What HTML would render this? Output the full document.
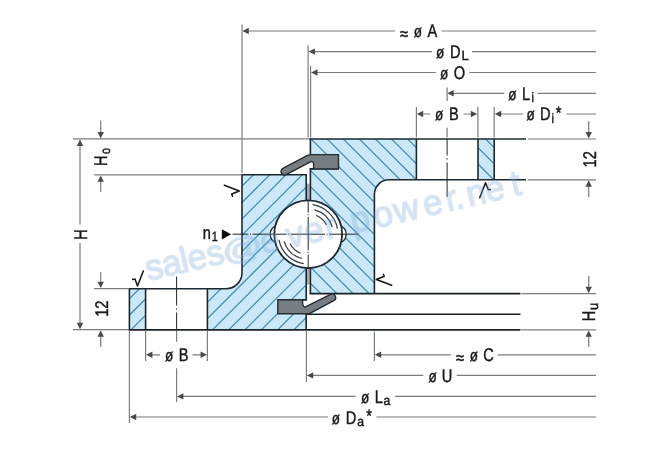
<!DOCTYPE html>
<html lang="en">
<head>
<meta charset="utf-8">
<title>Slewing bearing dimension drawing</title>
<style>
html,body{margin:0;padding:0;background:#fff;}
body{width:670px;height:450px;overflow:hidden;position:relative;}
svg{display:block;position:absolute;left:0;top:0;}
text{font-family:"Liberation Sans",sans-serif;fill:#1a1a1a;text-rendering:geometricPrecision;}
#labels{opacity:0.999;}
#labels text{stroke:#161616;stroke-width:0.45;}
.t{font-size:18.3px;}
.s{font-size:13.6px;}
.o{font-size:16.9px;}
.wm{font-size:36px;fill:#78a5d7;stroke:#78a5d7;stroke-width:1.4;stroke-linejoin:round;opacity:0.31;}
.dim{stroke:#7b7d7f;stroke-width:1.2;fill:none;}
.ah{fill:#484b4e;stroke:none;}
.ol{stroke:#1c2830;stroke-width:1.6;fill:none;stroke-linejoin:miter;stroke-linecap:butt;}
.thk{stroke:#1c2226;stroke-width:1.7;fill:none;}
.cl{stroke:#1f252a;stroke-width:1;fill:none;}
.hl{stroke:#4a8cb0;stroke-width:1.25;fill:none;}
.fillb{fill:#c9e8f9;}
.seal{fill:#767d83;stroke:#252c31;stroke-width:1.4;stroke-linejoin:round;}
.rm{fill:none;stroke:#151515;stroke-width:1.5;stroke-linecap:round;stroke-linejoin:round;}
</style>
</head>
<body>
<svg width="670" height="450" viewBox="0 0 670 450">
<defs>
<clipPath id="ci"><path d="M242 174.800H306.200V329.700H207.400V288.700H225.800A16 16 0 0 0 242 272.700ZM129.400 288.700H145.600V329.700H129.400Z"/></clipPath>
<clipPath id="co"><path d="M310.400 139H416.400V179.800H389A14.600 14.600 0 0 0 374.400 194.400V293.700H310.400Z"/></clipPath>
<clipPath id="cb"><path d="M478 139H494.200V179.800H478Z"/></clipPath>
</defs>

<!-- section fills -->
<g id="fills">
<path class="fillb" d="M242 174.800H306.200V329.700H207.400V288.700H225.800A16 16 0 0 0 242 272.700ZM129.400 288.700H145.600V329.700H129.400Z"/>
<path class="fillb" d="M310.400 139H416.400V179.800H389A14.600 14.600 0 0 0 374.400 194.400V293.700H310.400ZM478 139H494.200V179.800H478Z"/>
<path class="hl" clip-path="url(#ci)" d="M120 291.9L320 91.9M120 308.2L320 108.2M120 324.5L320 124.5M120 340.8L320 140.8M120 357.1L320 157.1M120 373.4L320 173.4M120 389.7L320 189.7M120 406L320 206M120 422.3L320 222.3M120 438.6L320 238.6M120 454.9L320 254.9M120 471.2L320 271.2M120 487.5L320 287.5M120 503.8L320 303.8"/>
<path class="hl" clip-path="url(#co)" d="M300 272.8L500 472.8M300 256.7L500 456.7M300 240.6L500 440.6M300 224.5L500 424.5M300 208.4L500 408.4M300 192.3L500 392.3M300 176.2L500 376.2M300 160.1L500 360.1M300 144L500 344M300 127.9L500 327.9M300 111.8L500 311.8M300 95.7L500 295.7M300 79.6L500 279.6M300 63.5L500 263.5M300 47.4L500 247.4M300 31.3L500 231.3"/>
<path class="hl" clip-path="url(#cb)" d="M470 156L500 186M470 139.700L500 169.700M470 123.400L500 153.400M470 172.300L500 202.300"/>
</g>

<!-- gap between rings -->
<rect x="307" y="183.700" width="2.600" height="17" fill="#a4a7ab"/>
<rect x="307" y="267" width="2.600" height="17.500" fill="#a4a7ab"/>

<!-- dimension / extension lines -->
<g id="dims" class="dim">
<path d="M242 24.500V173"/>
<path d="M308.100 45.300V137.500"/>
<path d="M310.600 65.800V137.500"/>
<path d="M447.100 87.500V101M447.100 127.700V137.500"/>
<path d="M416.400 107V137.500M477.900 107V137.500M494.200 107V137.500"/>
<path d="M73 138.900H309"/>
<path d="M94 174.800H241"/>
<path d="M94 288.700H128.500"/>
<path d="M73 329.700H128.500"/>
<path d="M528 139H596M528 179.800H596"/>
<path d="M521.500 293.700H596M521.500 329.900H596"/>
<path d="M129.400 331V423"/>
<path d="M145.600 331V361M207.400 331V361"/>
<path d="M176.600 331V341.700M176.600 368.300V402"/>
<path d="M306.400 331V382"/>
<path d="M374.400 331.500V361"/>
<path d="M247 31H395M441.500 31H596"/>
<path d="M313 51.600H432M472 51.600H596"/>
<path d="M315.500 72.500H436M469.500 72.500H596"/>
<path d="M452 93.300H504.300M537.700 93.300H596"/>
<path d="M421 114H430.300M463.700 114H473"/>
<path d="M499 114H523M566.300 114H596"/>
<path d="M150 354.800H160M192.500 354.800H203"/>
<path d="M379 354.800H450.800M497.500 354.800H596"/>
<path d="M311 375.400H423.300M456.700 375.400H596"/>
<path d="M181 396.400H355.800M395 396.400H596"/>
<path d="M134 417H328M376.300 417H596"/>
<path d="M80 144V224.500M80 243V325"/>
<path d="M100.700 120.500V134M100.700 180V192"/>
<path d="M100.700 272V284M100.700 335V347"/>
<path d="M588.700 121V134M588.700 185V197"/>
<path d="M588.700 276V289M588.700 335V347"/>
</g>
<path id="arrows" class="ah" d="M242.4 31l6.4 -3.2v6.4zM308.6 51.6l6.4 -3.2v6.4zM311.1 72.5l6.4 -3.2v6.4zM447.3 93.3l6.4 -3.2v6.4zM416.8 114l6.4 -3.2v6.4zM477.2 114l-6.4 -3.2v6.4zM494.8 114l6.4 -3.2v6.4zM146 354.8l6.4 -3.2v6.4zM207 354.8l-6.4 -3.2v6.4zM374.8 354.8l6.4 -3.2v6.4zM306.8 375.4l6.4 -3.2v6.4zM177 396.4l6.4 -3.2v6.4zM129.8 417l6.4 -3.2v6.4zM80 139.6l-3.2 6.4h6.4zM80 329.2l-3.2 -6.4h6.4zM100.7 138.4l-3.2 -6.4h6.4zM100.7 175.4l-3.2 6.4h6.4zM100.7 288.1l-3.2 -6.4h6.4zM100.7 330.3l-3.2 6.4h6.4zM588.7 138.5l-3.2 -6.4h6.4zM588.7 180.3l-3.2 6.4h6.4zM588.7 293.2l-3.2 -6.4h6.4zM588.7 330.4l-3.2 6.4h6.4z"/>

<!-- outlines -->
<g id="outl">
<path class="ol" d="M306.200 174.800H242V272.700A16 16 0 0 1 225.800 288.700H129.400V329.700"/>
<path class="ol" d="M306.200 174V299.900M306.200 313.700V330"/>
<path class="ol" d="M145.600 288.700V329.700M207.400 288.700V329.700"/>
<path class="ol" d="M310.400 293.700V168.900M310.400 154.600V138.200"/>
<path class="ol" d="M416.400 139V179.800M478 139V179.800M494.200 139V179.800"/>
<path class="ol" d="M526 179.800H389A14.600 14.600 0 0 0 374.400 194.400V293.700"/>
<path class="ol" d="M309.600 139H526"/>
<path class="thk" d="M309.600 293.700H520.500"/>
<path class="thk" style="stroke-width:1.5" d="M306.200 314.300H520.500"/>
<path class="thk" d="M128.600 329.800H520.500"/>
</g>

<!-- ball -->
<g id="ball">
<path d="M276 225.800A9 9 0 0 0 276 242.600M340.400 225.800A9 9 0 0 1 340.400 242.600" fill="#fff" stroke="#1c2830" stroke-width="1.3"/>
<circle cx="308.200" cy="234.200" r="33.900" fill="#fff" stroke="#1c2830" stroke-width="1.8"/>
<path d="M312.6 204.73A29.8 29.8 0 0 1 337.45 228.51M314.48 209.9A25.1 25.1 0 0 1 332.27 227.07M316.05 215.26A20.5 20.5 0 0 1 326.47 224.89M303.8 263.67A29.8 29.8 0 0 1 278.95 239.89M301.92 258.5A25.1 25.1 0 0 1 284.13 241.33M300.35 253.14A20.5 20.5 0 0 1 289.93 243.51" fill="none" stroke="#3a4046" stroke-width="1.25"/>
</g>

<!-- seals -->
<g id="seals">
<rect x="310.400" y="154.600" width="28.100" height="14.300" fill="#fff"/>
<rect x="277.800" y="299.900" width="29.200" height="13.800" fill="#fff"/>
<path class="ol" d="M309.600 168.900H338.500M277.800 299.900H307"/>
<path class="seal" d="M338.5 154.6H311.2Q309 154.6 307.5 155.3L282.9 168.4A3.55 3.55 0 0 0 286.24 174.67L310.31 161.85Q313.6 160.6 313.6 164.6V168.9H338.5Z"/>
<path class="seal" d="M277.8 299.9H302.6Q302.3 306.8 305.04 307.17L330.61 294.33A3.55 3.55 0 0 1 333.79 300.67L309.46 313.7H277.8Z"/>
</g>

<!-- centre lines -->
<g id="centre">
<path class="cl" d="M232.500 234.200H358.500" stroke-dasharray="15.900 1.600 1 1.600 34.100 1.600 1 1.600 34.100 1.600 1 1.600 40"/>
<path class="cl" d="M308.200 200.500V268" stroke-dasharray="12.200 1.600 1 1.600 33.400 1.600 1 1.600 14"/>
<path class="cl" d="M176.600 276.500V305.500M176.600 308.300V309.600M176.600 312.500V329"/>
<path class="cl" d="M447.100 139V155.500M447.100 158V159.500M447.100 162.500V197"/>
</g>

<!-- n1 arrow -->
<path d="M231.200 234.300l-9.400-5.100v10.200z" fill="#111"/>

<!-- roughness marks -->
<g id="rough" class="rm">
<path d="M224.300 185.300L239.300 191L231.700 194L232.500 196.300"/>
<path d="M479.700 197.700L485.500 182.700L488.300 189.700L490.300 189.500"/>
<path d="M143.300 271L137.500 286L135 279L132.700 279.500"/>
<path d="M391.700 285.300L376.300 279.500L384.300 276.300L383.300 274.300"/>
</g>

<!-- labels -->
<g id="labels">
<text class="t" transform="translate(0 37.3) scale(0.8 1)"><tspan x="499.97" dy="2.4">≈</tspan> <tspan x="517.1" dy="-2.4" class="o">ø</tspan> <tspan x="534.52">A</tspan></text>
<text class="t" transform="translate(0 57.9) scale(0.8 1)"><tspan x="544.85" class="o">ø</tspan> <tspan x="562.63">D</tspan><tspan x="576.75" dy="2.4" class="s" textLength="9.08" lengthAdjust="spacingAndGlyphs">L</tspan></text>
<text class="t" transform="translate(0 79) scale(0.8 1)"><tspan x="550.1" class="o">ø</tspan> <tspan x="567.07">O</tspan></text>
<text class="t" transform="translate(0 99.6) scale(0.8 1)"><tspan x="635.22" class="o">ø</tspan> <tspan x="652.59">L</tspan><tspan x="664.36" dy="2.4" class="s">i</tspan></text>
<text class="t" transform="translate(0 120.3) scale(0.8 1)"><tspan x="543.6" class="o">ø</tspan> <tspan x="561.12">B</tspan></text>
<text class="t" transform="translate(0 120.3) scale(0.8 1)"><tspan x="658.22" class="o">ø</tspan> <tspan x="675.13">D</tspan><tspan x="689.36" dy="2.4" class="s">i</tspan><tspan x="694.56" dy="-4">*</tspan></text>
<text class="t" transform="translate(0 361.1) scale(0.8 1)"><tspan x="206.1" class="o">ø</tspan> <tspan x="223.31">B</tspan></text>
<text class="t" transform="translate(0 361.1) scale(0.8 1)"><tspan x="569.97" dy="2.4">≈</tspan> <tspan x="587.16" dy="-2.4" class="o">ø</tspan> <tspan x="604.05">C</tspan></text>
<text class="t" transform="translate(0 382) scale(0.8 1)"><tspan x="535.72" class="o">ø</tspan> <tspan x="552.26">U</tspan></text>
<text class="t" transform="translate(0 403) scale(0.8 1)"><tspan x="451.1" class="o">ø</tspan> <tspan x="468.4">L</tspan><tspan x="479.51" dy="2.4" class="s" textLength="8.47" lengthAdjust="spacingAndGlyphs">a</tspan></text>
<text class="t" transform="translate(0 423.6) scale(0.8 1)"><tspan x="414.66" class="o">ø</tspan> <tspan x="432.13">D</tspan><tspan x="446.51" dy="2.4" class="s" textLength="8.47" lengthAdjust="spacingAndGlyphs">a</tspan><tspan x="457.87" dy="-4">*</tspan></text>
<text class="t" transform="translate(0 238.5) scale(0.8 1)"><tspan x="253.34">n</tspan><tspan x="264.6" dy="2.4" class="s">1</tspan></text>
<text class="t" transform="translate(86.5 0) rotate(-90) scale(0.8 1)"><tspan x="-299.74">H</tspan></text>
<text class="t" transform="translate(107.1 0) rotate(-90) scale(0.8 1)"><tspan x="-207.42">H</tspan><tspan x="-192.54" dy="2.4" class="s">o</tspan></text>
<text class="t" transform="translate(108 0) rotate(-90) scale(0.8 1)"><tspan x="-396.08">1</tspan><tspan x="-385.83">2</tspan></text>
<text class="t" transform="translate(596 0) rotate(-90) scale(0.8 1)"><tspan x="-209.45">1</tspan><tspan x="-199.08">2</tspan></text>
<text class="t" transform="translate(595.3 0) rotate(-90) scale(0.8 1)"><tspan x="-401.61">H</tspan><tspan x="-387.65" dy="2.4" class="s" textLength="9.08" lengthAdjust="spacingAndGlyphs">u</tspan></text>
</g>

<!-- watermark -->
<text class="wm" transform="translate(147 281) rotate(-13) scale(0.97 1)"><tspan x="1.24 18.76 38.14 45.57 65.77">sales</tspan><tspan x="81.96" style="font-size:30px" textLength="42.27" lengthAdjust="spacingAndGlyphs">@</tspan><tspan x="122.47 150.41 169.07 190.72 218.04 242.27 263.92 294.85 318.56 327.32 340.72 360.31 387.63">everpower.net</tspan></text>
</svg>
</body>
</html>
